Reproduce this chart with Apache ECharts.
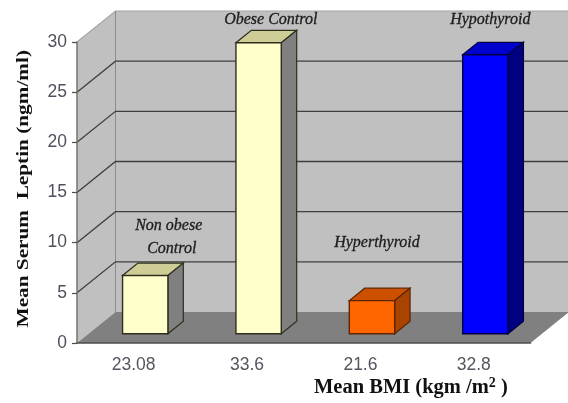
<!DOCTYPE html>
<html>
<head>
<meta charset="utf-8">
<style>
  html, body { margin: 0; background: #fff; }
  #chart { width: 568px; height: 403px; }
</style>
<script src="https://cdn.jsdelivr.net/npm/echarts@6/dist/echarts.min.js"></script>
</head>
<body>
<div id="chart"></div>
<script>
const bmiLabels = ['23.08', '33.6', '21.6', '32.8']
const leptinValues = [5.8, 29, 3.3, 27.8]
const frontColors = ['#ffffcc', '#ffffcc', '#ff6600', '#0000ff']
const topColors = ['#cfcd96', '#cfcd96', '#cc5000', '#0000cc']
const sideColors = ['#808080', '#808080', '#a84300', '#000080']
const edgeColors = ['#2e2e1e', '#2e2e1e', '#5e2500', '#000040']
const yTicks = [5, 10, 15, 20, 25]

// 3d look: how far the back wall sits from the axes, in pixels
const depthX = 38.5
const depthY = 31
const barOffset = 0.3   // front of the bar, as part of the depth
const barDepth = 0.4

const myChart = echarts.init(document.getElementById('chart'), null, { renderer: 'canvas' })

function poly(points, fill, stroke, width) {
  return {
    type: 'polygon',
    shape: { points: points },
    style: { fill: fill, stroke: stroke || null, lineWidth: width || 0 }
  }
}

function line(points, color, width) {
  return {
    type: 'polyline',
    shape: { points: points },
    style: { fill: null, stroke: color, lineWidth: width }
  }
}

// walls, floor and the gridlines that bend round the corner
function renderBackdrop(params, api) {
  const x0 = api.coord([0, 0])[0] - api.size([1, 0])[0] / 2
  const x1 = x0 + api.size([1, 0])[0] * bmiLabels.length
  const y0 = api.coord([0, 0])[1]
  const y30 = api.coord([0, 30])[1]
  const bx0 = x0 + depthX
  const bx1 = x1 + depthX
  const children = [
    poly([[x0, y0], [bx0, y0 - depthY], [bx0, y30 - depthY], [x0, y30]], '#c0c0c0'),
    poly([[bx0, y0 - depthY], [bx1, y0 - depthY], [bx1, y30 - depthY], [bx0, y30 - depthY]], '#c0c0c0'),
    poly([[x0, y0], [x1, y0], [bx1, y0 - depthY], [bx0, y0 - depthY]], '#808080'),
    line([[x0, y30], [bx0, y30 - depthY], [bx1, y30 - depthY]], '#a6a6a6', 1.2),
    line([[bx0, y0 - depthY], [bx0, y30 - depthY]], '#8c8c8c', 1)
  ]
  yTicks.forEach(function (v) {
    const y = api.coord([0, v])[1]
    children.push(line([[x0, y], [bx0, y - depthY], [bx1, y - depthY]], '#3f3f3f', 1.3))
  })
  return { type: 'group', children: children }
}

function renderBar(params, api) {
  const i = api.value(0)
  const base = api.coord([i, 0])
  const top = api.coord([i, api.value(1)])
  const w = api.size([1, 0])[0] * 0.4
  const ox = depthX * barOffset
  const oy = depthY * barOffset
  const dx = depthX * barDepth
  const dy = depthY * barDepth
  const l = base[0] - w / 2 + ox
  const r = l + w
  const b = base[1] - oy
  const t = top[1] - oy
  const edge = edgeColors[i]
  return {
    type: 'group',
    children: [
      poly([[l, t], [r, t], [r + dx, t - dy], [l + dx, t - dy]], topColors[i], edge, 1.2),
      poly([[r, b], [r + dx, b - dy], [r + dx, t - dy], [r, t]], sideColors[i], edge, 1.2),
      poly([[l, b], [r, b], [r, t], [l, t]], frontColors[i], edge, 1.4)
    ]
  }
}

const noteStyle = {
  fontFamily: 'Liberation Serif',
  fontStyle: 'italic',
  fontSize: 16,
  fill: '#1c1c1c',
  stroke: '#1c1c1c',
  lineWidth: 0.3
}

function note(text, left, top) {
  return { type: 'text', left: left, top: top, z: 20, style: Object.assign({ text: text }, noteStyle) }
}

myChart.setOption({
  animation: false,
  backgroundColor: '#fff',
  grid: { left: 77, right: 37.5, top: 42, bottom: 60 },
  xAxis: {
    type: 'category',
    data: bmiLabels,
    z: 5,
    axisLine: { lineStyle: { color: '#4d4d4d', width: 1.5 } },
    axisTick: { length: 6, lineStyle: { color: '#4d4d4d', width: 1.2 } },
    axisLabel: { color: '#55555f', fontFamily: 'Liberation Sans', fontSize: 17.5, margin: 13 },
    splitLine: { show: false }
  },
  yAxis: {
    type: 'value',
    min: 0,
    max: 30,
    interval: 5,
    z: 5,
    axisLine: { show: true, lineStyle: { color: '#737373', width: 1.5 } },
    axisTick: { show: true, length: 5, lineStyle: { color: '#4d4d4d', width: 1.2 } },
    axisLabel: { color: '#50505f', fontFamily: 'Liberation Sans', fontSize: 17.5, margin: 10 },
    splitLine: { show: false }
  },
  series: [
    {
      type: 'custom',
      silent: true,
      clip: false,
      renderItem: renderBackdrop,
      encode: { x: 0, y: 1 },
      data: [[0, 0]],
      z: 1
    },
    {
      type: 'custom',
      silent: true,
      clip: false,
      renderItem: renderBar,
      encode: { x: 0, y: 1 },
      data: leptinValues.map(function (v, i) { return [i, v] }),
      z: 2
    }
  ],
  graphic: [
    note('Non obese', 135, 218),
    note('Control', 147, 241),
    note('Obese Control', 224, 12),
    note('Hyperthyroid', 334, 235),
    note('Hypothyroid', 450, 12),
    {
      type: 'text',
      left: 15,
      top: 50,
      z: 20,
      rotation: Math.PI / 2,
      scaleX: 1.25,
      style: {
        text: 'Mean Serum  Leptin (ngm/ml)',
        fontFamily: 'Liberation Serif',
        fontWeight: 'bold',
        fontSize: 17,
        fill: '#111'
      }
    },
    {
      type: 'text',
      left: 314,
      top: 376,
      z: 20,
      style: {
        text: '{a|Mean BMI (kgm /m}{s|2}{a| )}',
        rich: {
          a: { fontFamily: 'Liberation Serif', fontWeight: 'bold', fontSize: 20.5, fill: '#111' },
          s: { fontFamily: 'Liberation Serif', fontWeight: 'bold', fontSize: 14, fill: '#111', verticalAlign: 'top', padding: [0, 0, 9, 0] }
        }
      }
    }
  ]
})
</script>
</body>
</html>
